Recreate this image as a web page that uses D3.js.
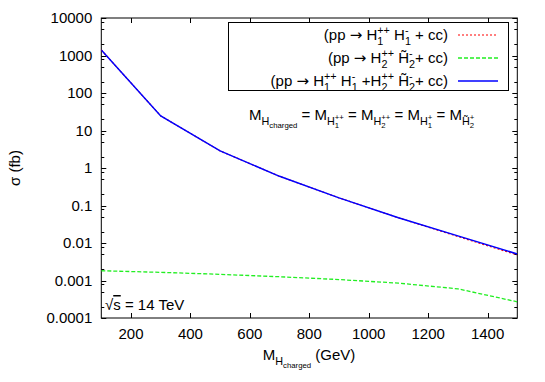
<!DOCTYPE html>
<html><head><meta charset="utf-8">
<script src="https://cdn.jsdelivr.net/npm/d3@7"></script>
<style>
body{margin:0;background:#fff}
text{font-family:"Liberation Sans",Arial,Helvetica,sans-serif;fill:#000;white-space:pre}
</style></head>
<body>
<svg id="c" width="545" height="382"></svg>
<script>
// ---- data ----
const masses = [100, 300, 500, 700, 900, 1100, 1300, 1500];
const sigmaH1 = [1400, 24.5, 2.85, 0.6, 0.16, 0.047, 0.0149, 0.0048];
const sigmaH2 = [0.00182, 0.00165, 0.00146, 0.00126, 0.00106, 0.00085, 0.0006, 0.00027];
const sigmaTotal = [1400, 24.5, 2.85, 0.6, 0.16, 0.047, 0.0155, 0.0051];
const xTicks = [200, 400, 600, 800, 1000, 1200, 1400];
const yTicks = [0.0001, 0.001, 0.01, 0.1, 1, 10, 100, 1000, 10000];
const yTickLabels = ["0.0001", "0.001", "0.01", "0.1", "1", "10", "100", "1000", "10000"];
const legendLabels = [
  "(pp \u2192 H@^{++}_{1} H@^{-}_{1} + cc)",
  "(pp \u2192 H@^{++}_{2} H\u0303@^{-}_{2}+ cc)",
  "(pp \u2192 H@^{++}_{1} H@^{-}_{1} +H@^{++}_{2} H\u0303@^{-}_{2}+ cc)"
];
const annotation = "M_{H_{charged}} = M_{H@^{++}_{1}} = M_{H@^{++}_{2}} = M_{H@^{+}_{1}} = M_{H\u0303@^{+}_{2}}";
const xLabel = "M_{H_{charged}} (GeV)";
const yLabel = "\u03c3 (fb)";

const svg = d3.select("#c");
const FS = 15;
const L = 101.3, R = 517.3, T = 18, B = 318;
const x = d3.scaleLinear().domain([100, 1500]).range([L, R]);
const y = d3.scaleLog().domain([0.0001, 10000]).range([B, T]);

// rich text renderer (gnuplot-like ^{} _{} @ stacking)
function parseGroup(s, i) {
  let depth = 0, j = i;
  for (; j < s.length; j++) {
    if (s[j] === '{') depth++;
    else if (s[j] === '}') { depth--; if (depth === 0) break; }
  }
  return [s.slice(i + 1, j), j + 1];
}
function rich(g, s, x0, y0, size) {
  let xx = x0, i = 0, buf = "";
  const put = (str, fam) => {
    const t = g.append("text").attr("x", xx).attr("y", y0).attr("font-size", size).text(str);
    if (fam) t.style("font-family", fam);
    xx += t.node().getComputedTextLength();
  };
  const flush = () => {
    if (!buf) return;
    const parts = buf.split("\u2192");
    parts.forEach((p, k) => {
      if (k > 0) put("\u2192", "'DejaVu Sans'");
      if (p) put(p);
    });
    buf = "";
  };
  while (i < s.length) {
    const c = s[i];
    if (c === '@' && s[i + 1] === '^') {
      flush();
      let sup, sub;
      [sup, i] = parseGroup(s, i + 2);
      [sub, i] = parseGroup(s, i + 1);
      const w1 = rich(g, sup, xx, y0 - size * 0.42, size * 0.72) - xx;
      const w2 = rich(g, sub, xx, y0 + size * 0.32, size * 0.72) - xx;
      xx += Math.max(w1, w2);
    } else if (c === '^') {
      flush(); let sup; [sup, i] = parseGroup(s, i + 1);
      xx = rich(g, sup, xx, y0 - size * 0.42, size * 0.72);
    } else if (c === '_') {
      flush(); let sub; [sub, i] = parseGroup(s, i + 1);
      xx = rich(g, sub, xx, y0 + size * 0.32, size * 0.72);
    } else { buf += c; i++; }
  }
  flush();
  return xx;
}

// frame
svg.append("rect").attr("x", L).attr("y", T).attr("width", R - L).attr("height", B - T)
  .attr("fill", "none").attr("stroke", "#000").attr("stroke-width", 1);

// ticks
const ax = svg.append("g").attr("stroke", "#000").attr("stroke-width", 1);
yTicks.forEach((v, k) => {
  const yy = Math.round(y(v)) + 0.5;
  ax.append("line").attr("x1", L).attr("x2", L + 5).attr("y1", yy).attr("y2", yy);
  ax.append("line").attr("x1", R - 5).attr("x2", R).attr("y1", yy).attr("y2", yy);
  svg.append("text").attr("x", L - 9).attr("y", y(v) + 5).attr("text-anchor", "end")
    .attr("font-size", FS).text(yTickLabels[k]);
  if (k < yTicks.length - 1) {
    [2, 5, 8].forEach(m => {
      const yv = Math.round(y(v * m)) + 0.5;
      ax.append("line").attr("x1", L).attr("x2", L + 3).attr("y1", yv).attr("y2", yv);
      ax.append("line").attr("x1", R - 3).attr("x2", R).attr("y1", yv).attr("y2", yv);
    });
  }
});
xTicks.forEach(v => {
  const xx = Math.round(x(v)) + 0.5;
  ax.append("line").attr("x1", xx).attr("x2", xx).attr("y1", B).attr("y2", B - 5);
  ax.append("line").attr("x1", xx).attr("x2", xx).attr("y1", T).attr("y2", T + 5);
  svg.append("text").attr("x", x(v)).attr("y", 339).attr("text-anchor", "middle")
    .attr("font-size", FS).text(v);
});

// curves
svg.append("clipPath").attr("id", "clip").append("rect")
  .attr("x", L).attr("y", T).attr("width", R - L).attr("height", B - T);
const line = d3.line().x(d => x(d[0])).y(d => y(d[1]));
const series = [
  {vals: sigmaH1, color: "#ff0000", dash: "2,2", w: 1.2},
  {vals: sigmaH2, color: "#22ee22", dash: "4,2", w: 1.3},
  {vals: sigmaTotal, color: "#0000ff", dash: null, w: 1.5}
];
series.forEach(s => {
  svg.append("path").attr("clip-path", "url(#clip)")
    .attr("d", line(masses.map((m, i) => [m, s.vals[i]])))
    .attr("fill", "none").attr("stroke", s.color).attr("stroke-width", s.w)
    .attr("stroke-dasharray", s.dash);
});

// legend
svg.append("rect").attr("x", 228.5).attr("y", 22.5).attr("width", 280).attr("height", 68)
  .attr("fill", "#fff").attr("stroke", "#000").attr("stroke-width", 1);
const rowY = [40, 63, 86];
legendLabels.forEach((lab, i) => {
  const g = svg.append("g");
  const w = rich(g, lab, 0, rowY[i], FS);
  g.attr("transform", `translate(${448 - w},0)`);
  const s = series[i];
  svg.append("line").attr("x1", 458).attr("x2", 498).attr("y1", rowY[i] - 5).attr("y2", rowY[i] - 5)
    .attr("stroke", s.color).attr("stroke-width", s.w).attr("stroke-dasharray", s.dash);
});

// annotation
rich(svg.append("g"), annotation, 249, 120, FS);

// energy label with overlined s
{
  const t = svg.append("text").attr("x", 105).attr("y", 310).attr("font-size", FS);
  t.append("tspan").text("\u221a");
  t.append("tspan").style("text-decoration", "overline").text("s");
  t.append("tspan").text(" = 14 TeV");
}

// axis labels
{
  const g = svg.append("g");
  const w = rich(g, xLabel, 0, 360, FS);
  g.attr("transform", `translate(${309 - w / 2},0)`);
}
svg.append("text").attr("transform", "translate(20,168) rotate(-90)")
  .attr("text-anchor", "middle").attr("font-size", FS).text(yLabel);
</script>
</body></html>
